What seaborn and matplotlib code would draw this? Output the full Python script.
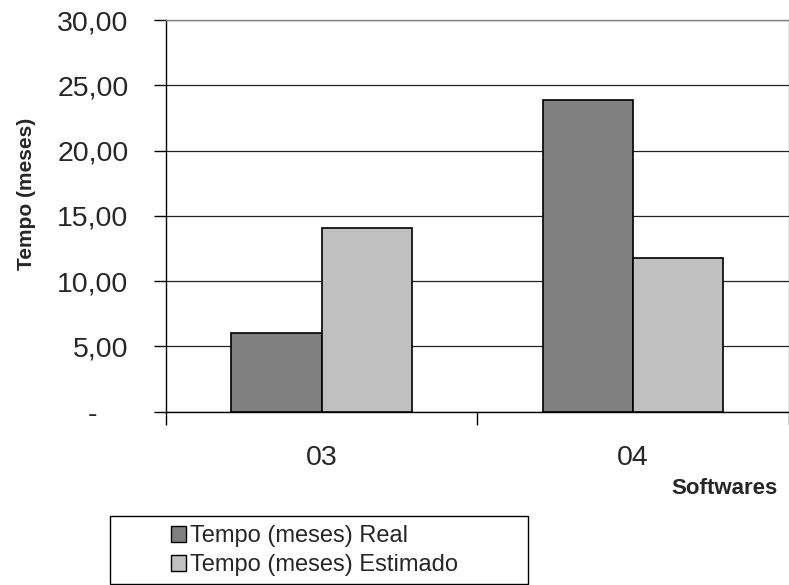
import matplotlib
matplotlib.use("Agg")
import matplotlib.pyplot as plt
from matplotlib.patches import Patch, Rectangle
import pandas as pd
import seaborn as sns

# Data
softwares = ["03", "04"]
tempo_real = [6.0, 23.9]
tempo_estimado = [14.1, 11.8]
series_names = ["Tempo (meses) Real", "Tempo (meses) Estimado"]
series_colors = ["#808080", "#C0C0C0"]
y_ticks = [0, 5, 10, 15, 20, 25, 30]
y_tick_labels = ["-    ", "5,00", "10,00", "15,00", "20,00", "25,00", "30,00"]

df = pd.DataFrame({
    "Software": softwares * 2,
    "Tempo": tempo_real + tempo_estimado,
    "Serie": [series_names[0]] * len(softwares) + [series_names[1]] * len(softwares),
})

sns.set_theme(style="white")
plt.rcParams["font.family"] = ["Liberation Sans", "DejaVu Sans"]

W, H = 789, 585
fig = plt.figure(figsize=(W / 100, H / 100), dpi=100)
left, right, top, bottom = 166, 788.5, 20, 411.7
ax = fig.add_axes([left / W, 1 - bottom / H, (right - left) / W, (bottom - top) / H])

sns.barplot(data=df, x="Software", y="Tempo", hue="Serie", order=softwares,
            hue_order=series_names, palette=series_colors, saturation=1,
            width=0.58, edgecolor="black", linewidth=1.2, ax=ax, legend=False,
            zorder=3)

ax.set_xlim(-0.5, 1.5)
ax.set_ylim(0, 30)

# y axis
ax.set_yticks(y_ticks)
ax.set_yticklabels(y_tick_labels)
ax.tick_params(axis="y", which="major", length=9, width=1, color="black",
               direction="out", pad=18, labelsize=20.5, left=True)
ax.yaxis.grid(True, color="#222222", linewidth=0.9)
ax.xaxis.grid(False)
ax.set_axisbelow(True)

# x axis: boundary ticks, labels at category centres
ax.set_xticks([-0.5, 0.5, 1.5])
ax.set_xticklabels(["", "", ""])
ax.set_xticks([0, 1], minor=True)
ax.set_xticklabels(softwares, minor=True)
ax.tick_params(axis="x", which="major", length=9, width=1, color="black",
               direction="out", bottom=True)
ax.tick_params(axis="x", which="minor", length=0, pad=24, labelsize=20.5,
               bottom=True)

for side in ("left", "bottom"):
    ax.spines[side].set_color("black")
    ax.spines[side].set_linewidth(1.0)
for side in ("top", "right"):
    ax.spines[side].set_color("#808080")
    ax.spines[side].set_linewidth(1.0)

ax.set_ylabel("Tempo (meses)", fontsize=15, fontweight="bold")
ax.yaxis.set_label_coords((36 - left) / (right - left), (bottom - 194) / (bottom - top))
ax.set_xlabel("Softwares", fontsize=16, fontweight="bold")
ax.xaxis.label.set_ha("right")
ax.xaxis.set_label_coords((778 - left) / (right - left), (bottom - 478) / (bottom - top))

# Legend box below the chart
fig.patches.append(Rectangle((110 / W, 1 - 583.5 / H), 418 / W, 68 / H,
                             transform=fig.transFigure, facecolor="white",
                             edgecolor="black", linewidth=1.0))
handles = [Patch(facecolor=c, edgecolor="black", linewidth=1.0) for c in series_colors]
fig.legend(handles, series_names, loc="upper left",
           bbox_to_anchor=(170.5 / W, 1 - 525 / H), frameon=False,
           fontsize=17, handlelength=0.64, handleheight=0.64,
           handletextpad=0.2, labelspacing=0.3, borderpad=0,
           borderaxespad=0)

fig.savefig("out.png", dpi=100)
